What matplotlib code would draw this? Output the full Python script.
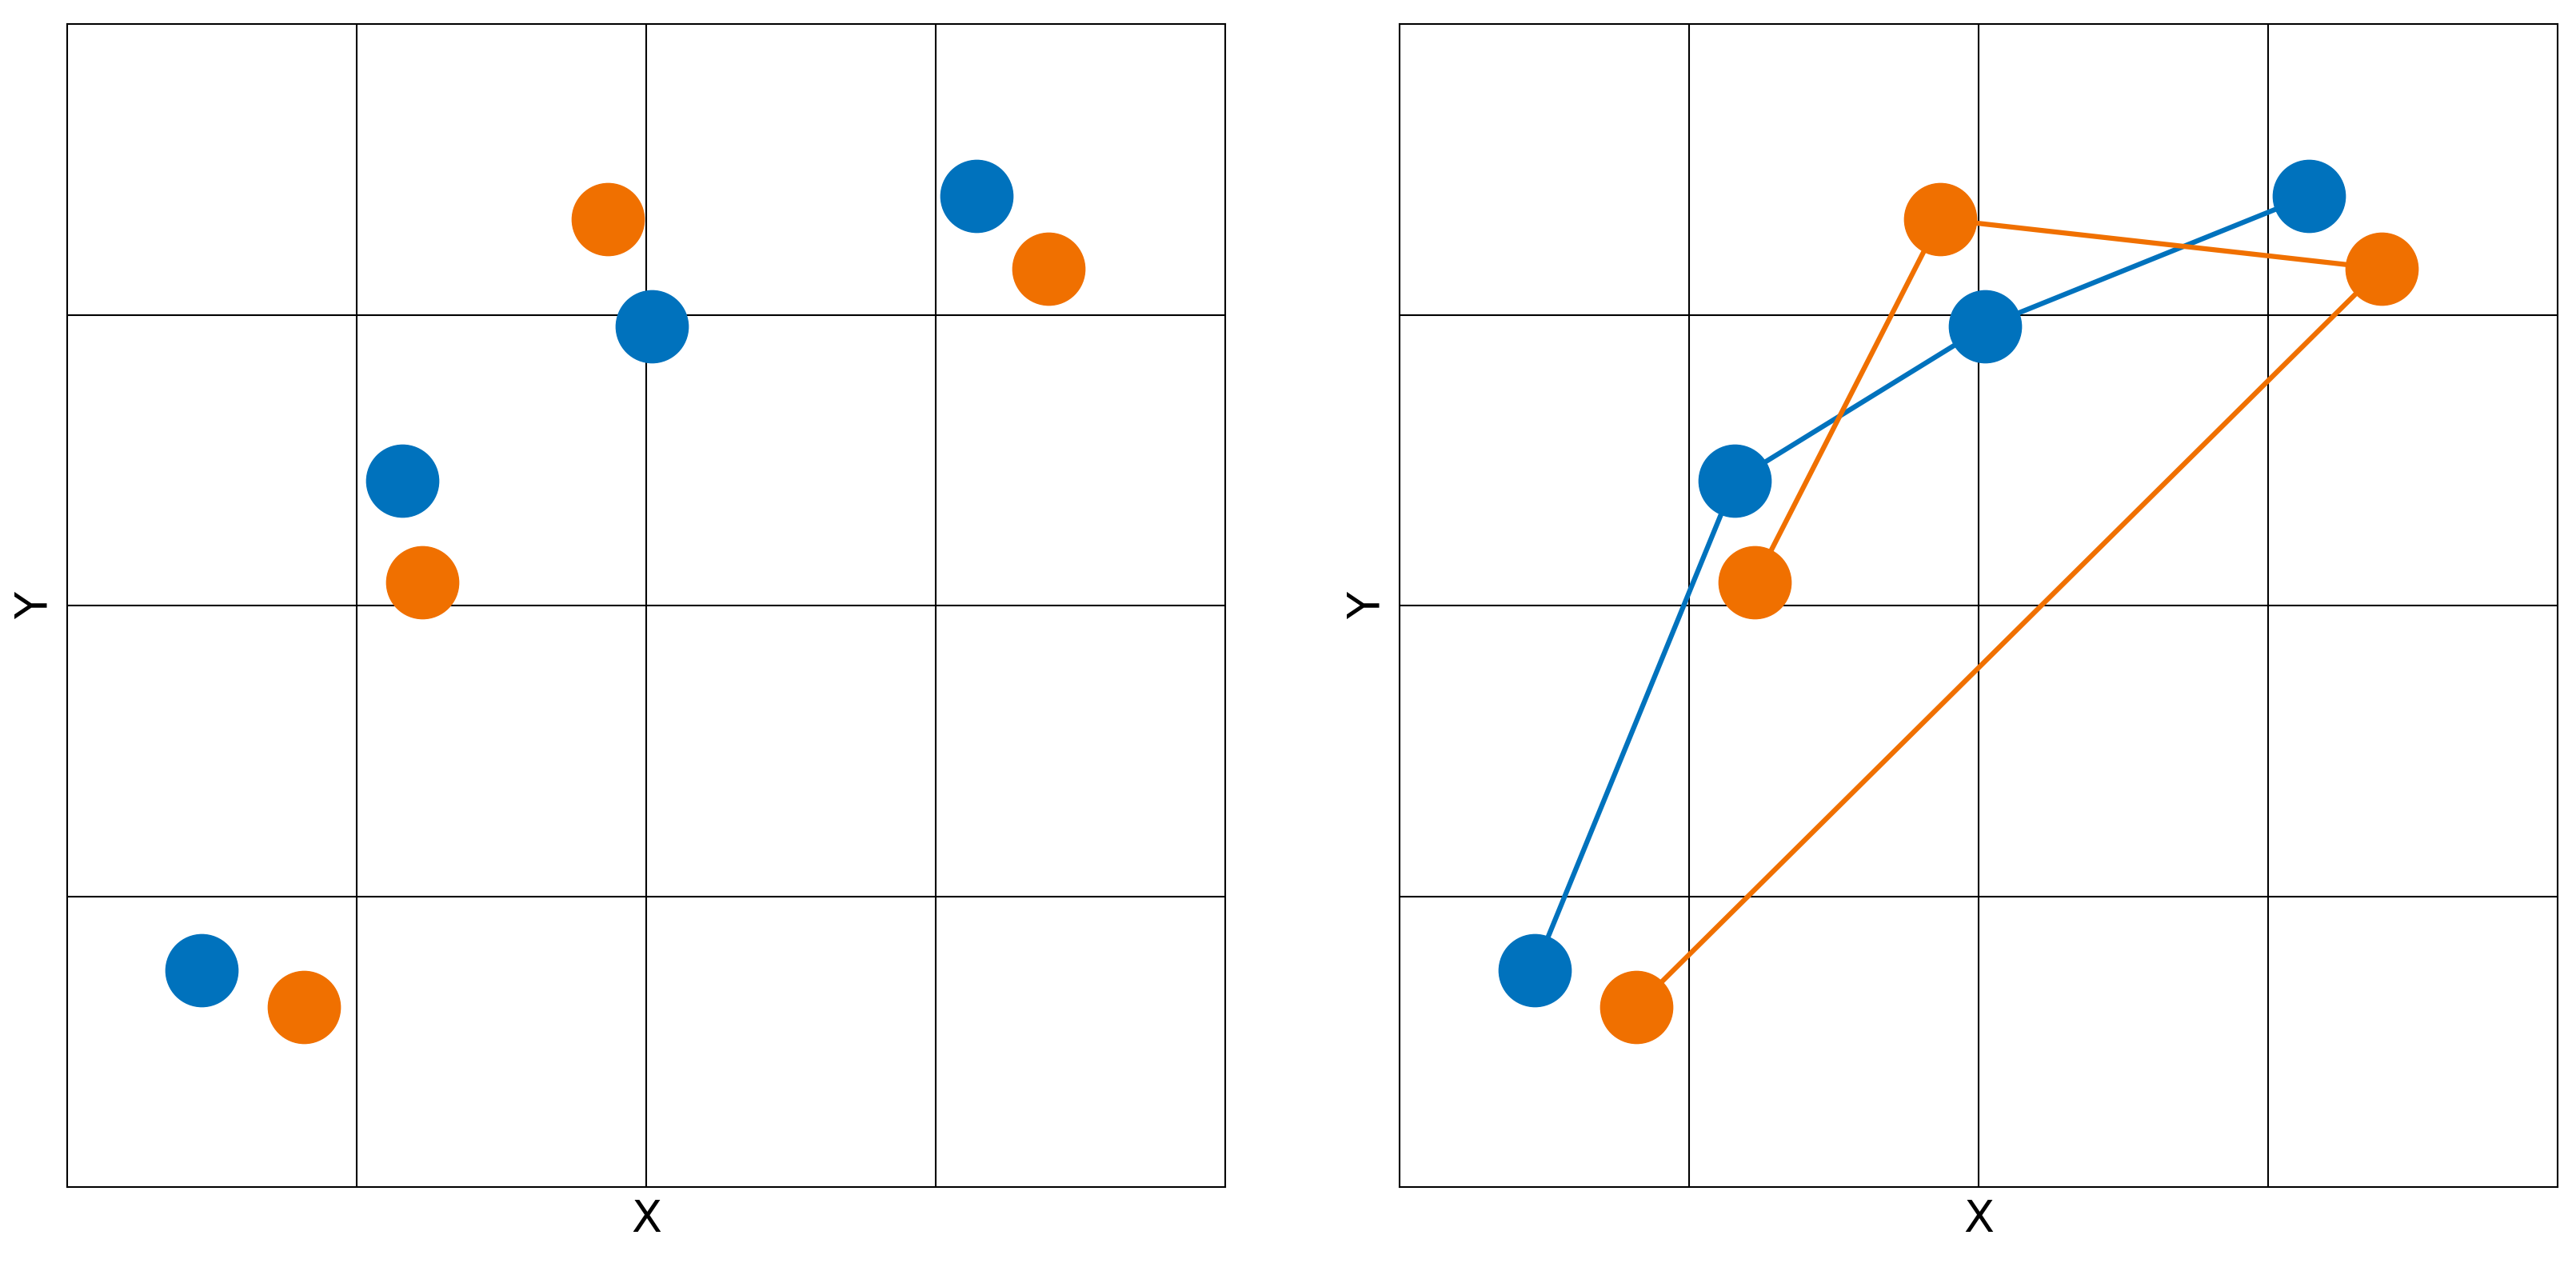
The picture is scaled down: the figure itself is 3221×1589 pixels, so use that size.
import matplotlib; matplotlib.use("Agg")
import matplotlib.pyplot as plt

BLUE_X = [0.465, 1.157, 2.02, 3.14]
BLUE_Y = [0.746, 2.43, 2.96, 3.41]
ORANGE_X = [0.817, 3.39, 1.867, 1.226]
ORANGE_Y = [0.62, 3.16, 3.33, 2.08]
C_BLUE, C_ORANGE = "#0072BD", "#F07000"

fig = plt.figure(figsize=(32.21, 15.89), dpi=100)
axes = [fig.add_axes([0.0261, 0.0659, 0.4496, 0.915]),
        fig.add_axes([0.5434, 0.0659, 0.4496, 0.915])]

for i, ax in enumerate(axes):
    ls = "-" if i == 1 else "none"
    ax.plot(BLUE_X, BLUE_Y, color=C_BLUE, ls=ls, lw=4.5, marker="o", ms=65, zorder=3)
    ax.plot(ORANGE_X, ORANGE_Y, color=C_ORANGE, ls=ls, lw=4.5, marker="o", ms=65, zorder=3)
    ax.set_xlim(0, 4); ax.set_ylim(0, 4)
    ax.set_xticks([1, 2, 3]); ax.set_yticks([1, 2, 3])
    ax.tick_params(length=0, labelbottom=False, labelleft=False)
    ax.grid(True, color="black", lw=1.5)
    for s in ax.spines.values(): s.set_linewidth(1.5)
    ax.set_xlabel("X", fontsize=40, labelpad=10)
    ax.set_ylabel("Y", fontsize=40, labelpad=10)

fig.savefig("out.png", dpi=100)
